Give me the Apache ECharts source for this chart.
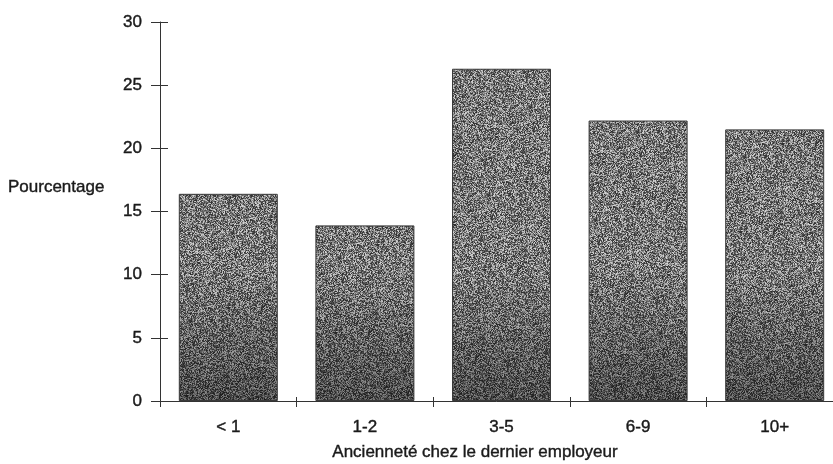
<!DOCTYPE html>
<html>
<head>
<meta charset="utf-8">
<script src="https://cdn.jsdelivr.net/npm/echarts@6/dist/echarts.min.js"></script>
<style>
  html, body { margin: 0; padding: 0; background: #ffffff; }
  #chart { width: 833px; height: 464px; }
</style>
</head>
<body>
<div id="chart"></div>
<script>
// Ancienneté chez le dernier employeur (années) et pourcentage
const categories = ['< 1', '1-2', '3-5', '6-9', '10+'];
const percentages = [16.4, 13.9, 26.3, 22.2, 21.5];
const yTicks = [0, 5, 10, 15, 20, 25, 30];

const FONT = '"Liberation Sans", Arial, sans-serif';
const TEXT = '#1a1a1a';
const AXIS = '#333333';

// Grainy grey fill for the bars, darker toward the base line
function grainTexture(w, h) {
  const c = document.createElement('canvas');
  c.width = w; c.height = h;
  const ctx = c.getContext('2d');
  const img = ctx.createImageData(w, h);
  let s = 1234567;
  const next = () => { s = (s * 1103515245 + 12345) & 0x7fffffff; return s / 0x7fffffff; };
  for (let y = 0; y < h; y++) {
    const dark = y > 270 ? Math.min(1, (y - 270) / 130) : 0;
    for (let x = 0; x < w; x++) {
      const r = next();
      let v = 45 + Math.pow(r, 1.2) * 170;
      v = v * (1 - 0.38 * dark);
      const i = (y * w + x) * 4;
      img.data[i] = img.data[i + 1] = img.data[i + 2] = v;
      img.data[i + 3] = 255;
    }
  }
  ctx.putImageData(img, 0, 0);
  return c;
}

const chart = echarts.init(document.getElementById('chart'), null, { renderer: 'canvas' });

const labelStyle = {
  color: TEXT, fontFamily: FONT, fontSize: 17,
  textBorderColor: TEXT, textBorderWidth: 0.4
};

const option = {
  backgroundColor: '#ffffff',
  animation: false,
  grid: { left: 160, right: -10, top: 22, bottom: 63, outerBoundsMode: 'none', containLabel: false },
  xAxis: [
    {
      type: 'category',
      data: categories,
      boundaryGap: true,
      axisLine: { lineStyle: { color: AXIS, width: 1 } },
      axisTick: { show: true, length: 6, lineStyle: { color: AXIS } },
      axisLabel: Object.assign({ margin: 18 }, labelStyle)
    },
    {
      type: 'category',
      data: categories,
      position: 'bottom',
      boundaryGap: true,
      axisLine: { show: false },
      axisTick: { show: true, inside: true, length: 4, lineStyle: { color: AXIS } },
      axisLabel: { show: false }
    }
  ],
  yAxis: [
    {
      type: 'value',
      min: yTicks[0],
      max: yTicks[yTicks.length - 1],
      interval: 5,
      axisLine: { show: true, lineStyle: { color: AXIS, width: 1 } },
      axisTick: { show: true, length: 9, lineStyle: { color: AXIS } },
      axisLabel: Object.assign({ margin: 18 }, labelStyle),
      splitLine: { show: false }
    },
    {
      type: 'value',
      position: 'left',
      min: yTicks[0],
      max: yTicks[yTicks.length - 1],
      interval: 5,
      axisLine: { show: false },
      axisTick: { show: true, inside: true, length: 8, lineStyle: { color: AXIS } },
      axisLabel: { show: false },
      splitLine: { show: false }
    }
  ],
  graphic: [
    {
      type: 'text',
      x: 8,
      y: 187,
      style: {
        text: 'Pourcentage',
        fill: TEXT,
        stroke: TEXT,
        lineWidth: 0.4,
        font: '17px ' + FONT,
        textAlign: 'left',
        textVerticalAlign: 'middle'
      }
    },
    {
      type: 'text',
      x: 475,
      y: 452,
      style: {
        text: 'Ancienneté chez le dernier employeur',
        fill: TEXT,
        stroke: TEXT,
        lineWidth: 0.4,
        font: '17px ' + FONT,
        textAlign: 'center',
        textVerticalAlign: 'middle'
      }
    }
  ],
  series: [
    {
      type: 'bar',
      xAxisIndex: 0,
      yAxisIndex: 0,
      data: percentages,
      barWidth: 99,
      itemStyle: {
        color: { image: grainTexture(833, 464), repeat: 'repeat' },
        borderColor: '#3a3a3a',
        borderWidth: 1
      }
    }
  ]
};

chart.setOption(option);
</script>
</body>
</html>
